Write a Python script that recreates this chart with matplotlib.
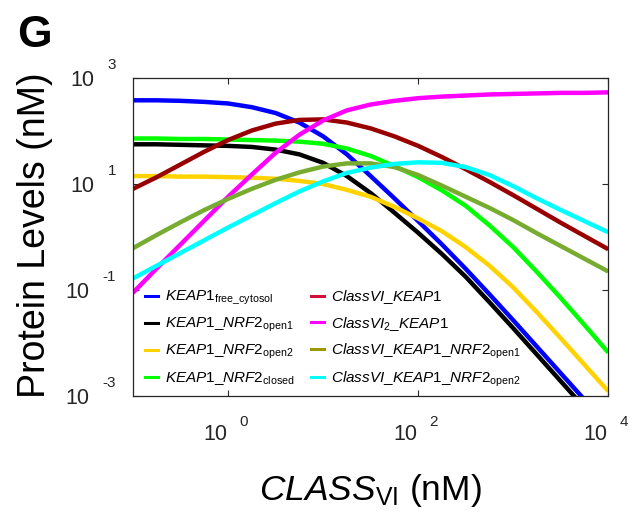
import numpy as np
import matplotlib
matplotlib.use('Agg')
from matplotlib import pyplot as plt
from matplotlib import transforms as mtransforms
from matplotlib.lines import Line2D

plt.rcParams['font.family'] = ['Liberation Sans', 'DejaVu Sans']
plt.rcParams['mathtext.fontset'] = 'custom'
plt.rcParams['mathtext.rm'] = 'Liberation Sans'
plt.rcParams['mathtext.it'] = 'Liberation Sans:italic'
plt.rcParams['mathtext.bf'] = 'Liberation Sans:bold'

# CLASS_VI dose (nM), quarter-decade steps
class_vi = [0.1, 0.1778, 0.3162, 0.5623, 1.0, 1.778, 3.162, 5.623, 10.0, 17.78,
            31.62, 56.23, 100.0, 177.8, 316.2, 562.3, 1000.0, 1778.0, 3162.0,
            5623.0, 10000.0]

# species levels, log10(nM)
keap1_free = [2.57, 2.57, 2.56, 2.54, 2.51, 2.44, 2.33, 2.15, 1.89, 1.55, 1.14,
              0.72, 0.29, -0.15, -0.61, -1.09, -1.58, -2.08, -2.58, -3.08]
keap1_nrf2_open1 = [1.74, 1.74, 1.73, 1.72, 1.71, 1.69, 1.64, 1.55, 1.39, 1.14,
                    0.82, 0.45, 0.07, -0.33, -0.76, -1.24, -1.73, -2.23, -2.73,
                    -3.23]
keap1_nrf2_open2 = [1.14, 1.14, 1.13, 1.13, 1.12, 1.11, 1.09, 1.05, 0.99, 0.88,
                    0.75, 0.56, 0.34, 0.10, -0.20, -0.55, -0.96, -1.43, -1.92,
                    -2.42, -2.92]
keap1_nrf2_closed = [1.85, 1.85, 1.84, 1.84, 1.83, 1.82, 1.81, 1.79, 1.75, 1.66,
                     1.52, 1.33, 1.12, 0.87, 0.58, 0.21, -0.20, -0.67, -1.16,
                     -1.67, -2.19]
classvi_keap1 = [0.90, 1.12, 1.36, 1.60, 1.82, 2.00, 2.13, 2.20, 2.21, 2.15, 2.04,
                 1.89, 1.71, 1.50, 1.27, 1.03, 0.78, 0.52, 0.26, 0.01, -0.24]
classvi2_keap1 = [-1.06, -0.60, -0.15, 0.30, 0.75, 1.17, 1.58, 1.92, 2.19, 2.38,
                  2.49, 2.56, 2.61, 2.64, 2.66, 2.68, 2.69, 2.70, 2.71, 2.71, 2.72]
classvi_keap1_nrf2_open1 = [-0.22, 0.03, 0.27, 0.50, 0.71, 0.90, 1.07, 1.21, 1.32,
                            1.38, 1.38, 1.31, 1.16, 0.96, 0.75, 0.54, 0.31, 0.06,
                            -0.18, -0.42, -0.66]
classvi_keap1_nrf2_open2 = [-0.79, -0.55, -0.31, -0.07, 0.17, 0.40, 0.63, 0.85,
                            1.04, 1.20, 1.30, 1.37, 1.40, 1.39, 1.31, 1.16, 0.95,
                            0.72, 0.50, 0.29, 0.08]

series = [
    (keap1_free, '#0000ff', '#0000ff', r'$\mathit{KEAP1}_{\mathrm{free\_cytosol}}$'),
    (keap1_nrf2_open1, '#000000', '#000000', r'$\mathit{KEAP1\_NRF2}_{\mathrm{open1}}$'),
    (keap1_nrf2_open2, '#ffd200', '#ffd200', r'$\mathit{KEAP1\_NRF2}_{\mathrm{open2}}$'),
    (keap1_nrf2_closed, '#00ff00', '#00ff00', r'$\mathit{KEAP1\_NRF2}_{\mathrm{closed}}$'),
    (classvi_keap1, '#990000', '#d0103a', r'$\mathit{ClassVI\_KEAP1}$'),
    (classvi2_keap1, '#ff00ff', '#ff00ff', r'$\mathit{ClassVI}_{2}\mathit{\_KEAP1}$'),
    (classvi_keap1_nrf2_open1, '#77ac30', '#999900', r'$\mathit{ClassVI\_KEAP1\_NRF2}_{\mathrm{open1}}$'),
    (classvi_keap1_nrf2_open2, '#00ffff', '#00ffff', r'$\mathit{ClassVI\_KEAP1\_NRF2}_{\mathrm{open2}}$'),
]

xt = [1, 100, 10000]
yt = [1e-3, 1e-1, 10, 1000]
tick_col = '#262626'

fig = plt.figure(figsize=(6.42, 5.14), dpi=100)
ax = fig.add_axes([0.2072, 0.2305, 0.7403, 0.6187])

for vals, col, _, _ in series:
    ax.plot(class_vi[:len(vals)], np.power(10.0, vals), color=col, lw=3.2,
            solid_capstyle='butt', solid_joinstyle='round')

ax.set_xscale('log')
ax.set_yscale('log')
ax.set_xlim(0.1, 1e4)
ax.set_ylim(1e-3, 1e3)
ax.set_xticks(xt)
ax.set_yticks(yt)
ax.set_xticklabels([])
ax.set_yticklabels([])
ax.minorticks_off()
ax.tick_params(which='both', direction='in', length=4, width=0.8, top=True,
               right=True, colors=tick_col)
for sp in ax.spines.values():
    sp.set_color(tick_col)
    sp.set_linewidth(0.9)


def shifted(base, dx, dy):
    return mtransforms.offset_copy(base, fig=fig, x=dx, y=dy, units='dots')


# "10" with a raised exponent, matlab style
renderer = fig.canvas.get_renderer()
xtr = mtransforms.blended_transform_factory(ax.transData, ax.transAxes)
for v in xt:
    e = int(round(np.log10(v)))
    ax.text(v, 0, '10', transform=shifted(xtr, -1, -44.5), ha='right',
            va='baseline', fontsize=15.5, color=tick_col)
    ax.text(v, 0, str(e), transform=shifted(xtr, 11, -30), ha='left',
            va='baseline', fontsize=11, color=tick_col)

ytr = mtransforms.blended_transform_factory(ax.transAxes, ax.transData)
for v in yt:
    e = int(round(np.log10(v)))
    et = ax.text(0, v, str(e), transform=shifted(ytr, -17, 8.5), ha='right',
                 va='baseline', fontsize=11, color=tick_col)
    w = et.get_window_extent(renderer).width
    ax.text(0, v, '10', transform=shifted(ytr, -17 - w - 13, -8), ha='right',
            va='baseline', fontsize=15.5, color=tick_col)

ax.set_xlabel(r'$\mathit{CLASS}_{\mathrm{VI}}\ \mathrm{(nM)}$', fontsize=25.5,
              va='baseline')
ax.xaxis.set_label_coords(0.5, -0.3286)
ax.set_ylabel('Protein Levels (nM)', fontsize=27)
ax.yaxis.set_label_coords(-0.169, 0.505)

handles = [Line2D([], [], color=lc, lw=2.2) for _, _, lc, _ in series]
labels = [lab for _, _, _, lab in series]
ax.legend(handles, labels, ncol=2, loc='lower left', bbox_to_anchor=(0.01, 0.0),
          frameon=False, fontsize=11, handlelength=0.85, handletextpad=0.45,
          columnspacing=1.1, labelspacing=0.57, borderaxespad=0.05)

fig.text(0.026, 0.97, 'G', fontsize=32, fontweight='bold', va='top', ha='left')

fig.savefig('out.png', dpi=100)
